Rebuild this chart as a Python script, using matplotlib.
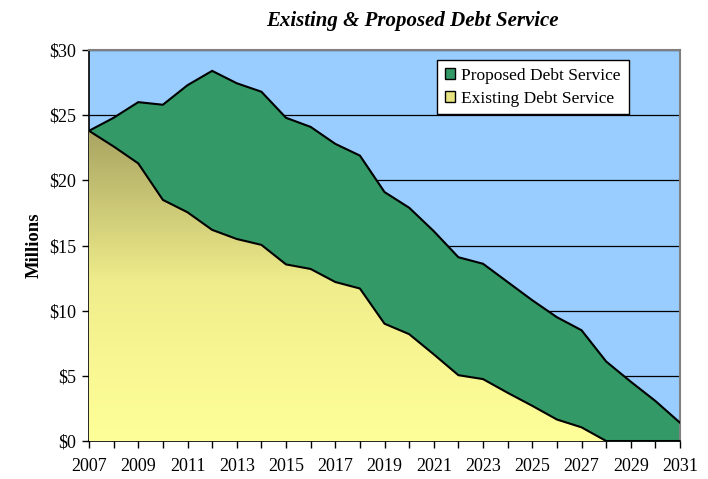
import matplotlib
matplotlib.use('Agg')
from matplotlib import pyplot as plt
from matplotlib.patches import Patch
from matplotlib.colors import LinearSegmentedColormap
import numpy as np

plt.rcParams['font.family'] = ['Liberation Serif', 'DejaVu Serif']

years = list(range(2007, 2032))
# total line (existing + proposed), $ millions
total = [23.8, 24.8, 26.0, 25.8, 27.3, 28.4, 27.45, 26.8, 24.8, 24.1, 22.8, 21.9, 19.1,
         17.9, 16.1, 14.1, 13.6, 12.2, 10.8, 9.5, 8.5, 6.1, 4.55, 3.07, 1.4]
existing = [23.8, 22.6, 21.3, 18.5, 17.55, 16.2, 15.5, 15.05, 13.55, 13.2, 12.2, 11.7, 9.0,
            8.2, 6.65, 5.05, 4.75, 3.7, 2.7, 1.65, 1.05, 0, 0, 0, 0]
proposed = [t - e for t, e in zip(total, existing)]

fig = plt.figure(figsize=(7.08, 4.79), dpi=100)
ax = fig.add_axes([0.1257, 0.0793, 0.8348, 0.8163])
ax.set_facecolor('#99CCFF')

x = np.array(years)
ex = np.array(existing)
top = ex + np.array(proposed)

# proposed on top
ax.fill_between(x, ex, top, color='#339966', zorder=2)
# existing with vertical gradient
poly = ax.fill_between(x, 0, ex, color='none', zorder=3)
cmap = LinearSegmentedColormap.from_list('ex', ['#FFFF99', '#F0EE8C', '#A9A462'])
grad = np.linspace(0, 1, 256).reshape(-1, 1)
im = ax.imshow(grad, extent=[2007, 2031, 0, 23.8], origin='lower', cmap=cmap,
               aspect='auto', zorder=3)
im.set_clip_path(poly.get_paths()[0], transform=ax.transData)

ax.plot(x, top, color='black', lw=1.5, zorder=4)
ax.plot(x, ex, color='black', lw=1.5, zorder=4)

ax.set_xlim(2007, 2031)
ax.set_ylim(0, 30)
ax.set_yticks(range(0, 31, 5))
ax.set_yticklabels(['$' + str(v) for v in range(0, 31, 5)], fontsize=13)
ax.set_xticks(range(2007, 2032, 2))
ax.set_xticks(range(2007, 2032), minor=True)
ax.set_xticklabels([str(y) for y in range(2007, 2032, 2)], fontsize=13)
ax.tick_params(axis='both', direction='out', length=5, width=1, color='black')
ax.tick_params(axis='x', which='both', length=5, width=1, pad=7)
ax.tick_params(axis='y', pad=4)
ax.grid(axis='y', color='black', lw=0.9, zorder=1)
ax.set_axisbelow(True)
for s in ['top', 'right']:
    ax.spines[s].set_color('#808080')
    ax.spines[s].set_linewidth(1.5)
ax.spines['left'].set_linewidth(1.2)
ax.spines['bottom'].set_linewidth(1.2)

ax.set_ylabel('Millions', fontsize=13.5, fontweight='bold', labelpad=5)
fig.text(0.583, 0.956, 'Existing & Proposed Debt Service', fontsize=15,
         fontweight='bold', fontstyle='italic', ha='center', va='center')

handles = [Patch(facecolor='#339966', edgecolor='black', label='Proposed Debt Service'),
           Patch(facecolor='#E6E380', edgecolor='black', label='Existing Debt Service')]
leg = ax.legend(handles=handles, loc='upper left', bbox_to_anchor=(0.589, 0.975),
                fontsize=12.5, frameon=True, fancybox=False, framealpha=1,
                handlelength=0.6, handleheight=0.6, handletextpad=0.35, borderpad=0.45,
                labelspacing=0.4, borderaxespad=0)
leg.get_frame().set_edgecolor('black')
leg.get_frame().set_facecolor('white')
leg.get_frame().set_linewidth(1)

plt.savefig('out.png', dpi=100)
